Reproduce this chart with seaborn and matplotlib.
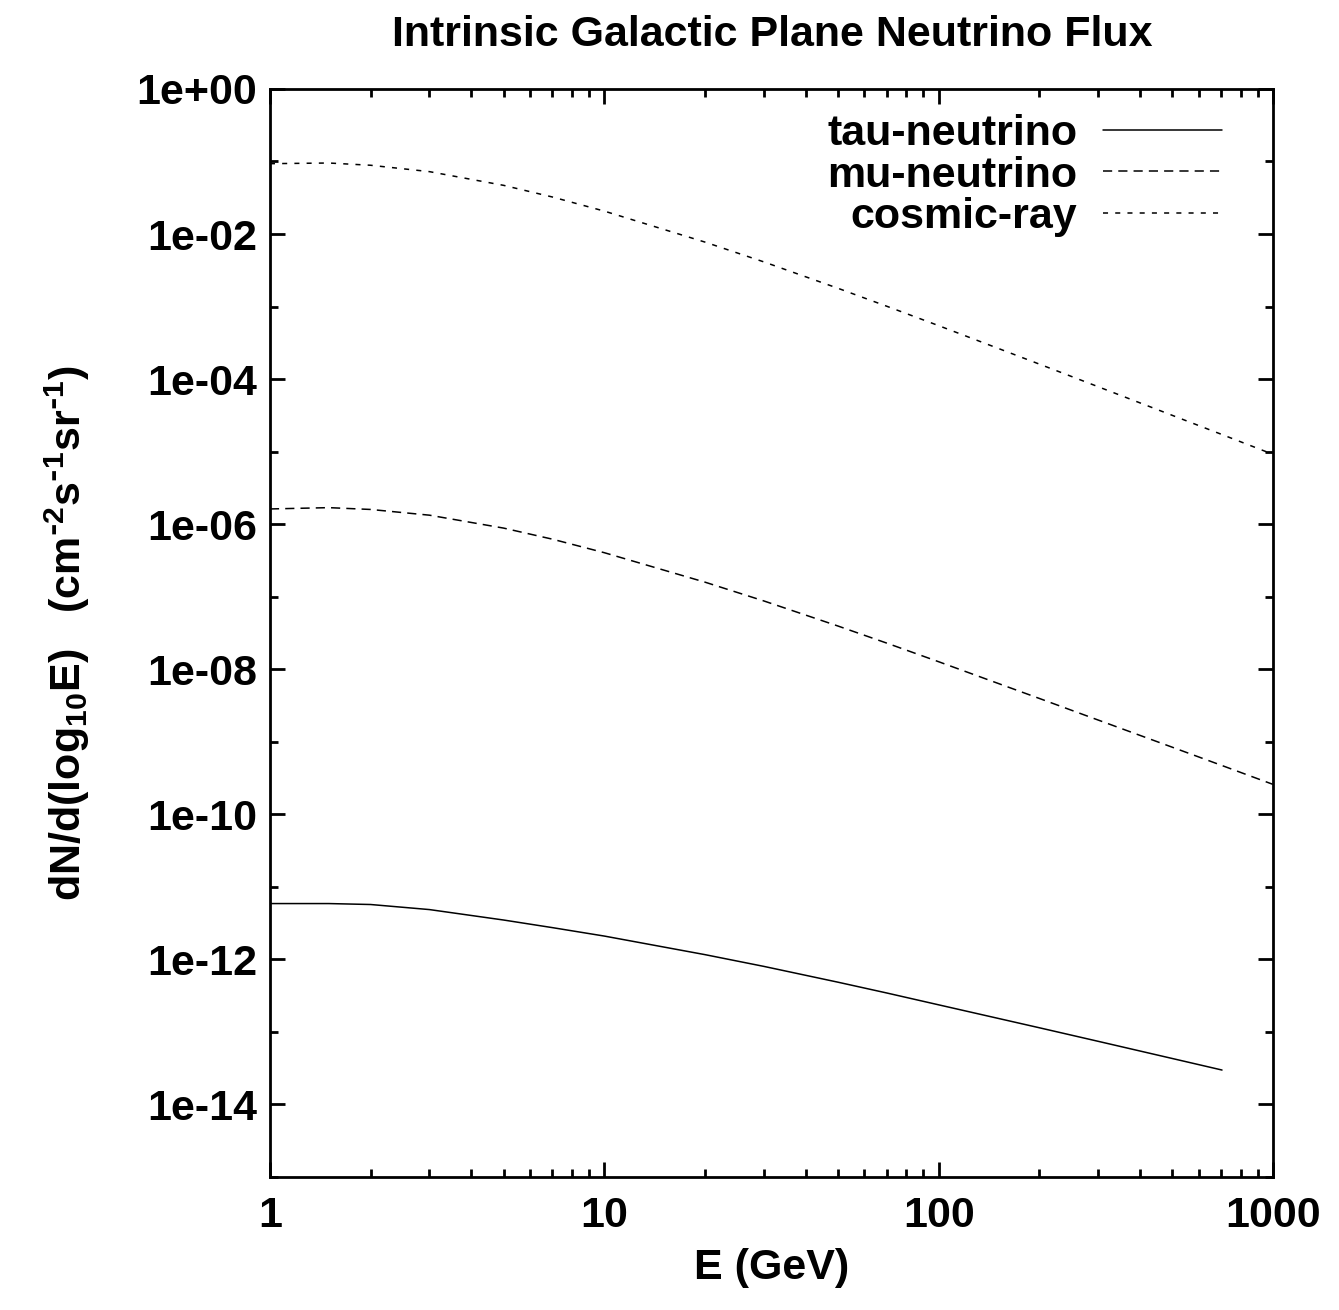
import numpy as np
import pandas as pd
import matplotlib
matplotlib.use("Agg")
import matplotlib.pyplot as plt
import matplotlib.ticker as mticker
import seaborn as sns

energy = [1, 1.5, 2, 3, 5, 7, 10, 20, 30, 50, 70, 100, 200, 300, 500, 700, 1000]

# log10 of dN/d(log10 E)
log_cosmic = [-1.03, -1.021, -1.052, -1.140, -1.329, -1.490, -1.684, -2.111, -2.384,
              -2.748, -2.996, -3.263, -3.793, -4.105, -4.500, -4.760, -5.037]
log_mu = [-5.79, -5.772, -5.797, -5.876, -6.054, -6.207, -6.393, -6.799, -7.058,
          -7.404, -7.640, -7.896, -8.402, -8.700, -9.075, -9.323, -9.587]
energy_tau = [1, 1.5, 2, 3, 5, 7, 10, 20, 30, 50, 70, 100, 200, 300, 500, 704]
log_tau = [-11.23, -11.23, -11.243, -11.313, -11.457, -11.562, -11.678, -11.934,
           -12.096, -12.314, -12.463, -12.626, -12.942, -13.129, -13.366, -13.525]

df = pd.DataFrame({"E": energy, "cosmic": np.power(10.0, log_cosmic),
                   "mu": np.power(10.0, log_mu)})
df_tau = pd.DataFrame({"E": energy_tau, "tau": np.power(10.0, log_tau)})

sns.set_style("ticks")
plt.rcParams["font.family"] = ["Liberation Sans", "DejaVu Sans"]
plt.rcParams["font.weight"] = "bold"
plt.rcParams["mathtext.default"] = "regular"
for key in ["text.color", "axes.labelcolor", "xtick.color", "ytick.color",
            "axes.edgecolor"]:
    plt.rcParams[key] = "black"

fs = 31
fig = plt.figure(figsize=(13.39, 13.10), dpi=100)
ax = fig.add_axes([0.2016, 0.1015, 0.9507 - 0.2016, 0.9321 - 0.1015])

lw = 1.1
sns.lineplot(data=df_tau, x="E", y="tau", ax=ax, color="black", lw=lw,
             label="tau-neutrino")
sns.lineplot(data=df, x="E", y="mu", ax=ax, color="black", lw=lw,
             linestyle=(0, (6, 4)), label="mu-neutrino")
sns.lineplot(data=df, x="E", y="cosmic", ax=ax, color="black", lw=lw,
             linestyle=(0, (3.3, 4.7)), label="cosmic-ray")

ax.set_xscale("log")
ax.set_yscale("log")
ax.set_xlim(1, 1000)
ax.set_ylim(1e-15, 1)

ax.xaxis.set_major_locator(mticker.FixedLocator([1, 10, 100, 1000]))
ax.xaxis.set_major_formatter(mticker.FixedFormatter(["1", "10", "100", "1000"]))
ax.xaxis.set_minor_locator(mticker.LogLocator(base=10, subs=np.arange(2, 10)))
ax.xaxis.set_minor_formatter(mticker.NullFormatter())

y_major = [10.0 ** k for k in range(0, -15, -2)]
y_labels = ["1e+00", "1e-02", "1e-04", "1e-06", "1e-08", "1e-10", "1e-12", "1e-14"]
ax.yaxis.set_major_locator(mticker.FixedLocator(y_major))
ax.yaxis.set_major_formatter(mticker.FixedFormatter(y_labels))
ax.yaxis.set_minor_locator(mticker.FixedLocator([10.0 ** k for k in range(-1, -16, -2)]))
ax.yaxis.set_minor_formatter(mticker.NullFormatter())

for s in ax.spines.values():
    s.set_visible(True)
    s.set_linewidth(2.0)
    s.set_color("black")

ax.tick_params(which="both", direction="in", top=True, right=True, width=2.0,
               colors="black")
ax.tick_params(which="major", length=11, labelsize=fs)
ax.tick_params(which="minor", length=5.5)
ax.tick_params(axis="x", which="major", pad=14)
ax.tick_params(axis="y", which="major", pad=9)
for lab in ax.get_xticklabels() + ax.get_yticklabels():
    lab.set_fontweight("bold")

ax.set_xlabel("E (GeV)", fontsize=fs, fontweight="bold", labelpad=8)
ax.set_ylabel(r"dN/d(log$_{10}$E)   (cm$^{\text{-}2}$s$^{\text{-}1}$sr$^{\text{-}1}$)",
              fontsize=fs, fontweight="bold", labelpad=32)
fig.suptitle("Intrinsic Galactic Plane Neutrino Flux", fontsize=fs,
             fontweight="bold", x=0.5766, y=0.9885)

leg = ax.legend(loc="upper right", bbox_to_anchor=(0.966, 0.993), frameon=False,
                markerfirst=False, fontsize=fs, handlelength=2.75,
                handletextpad=0.6, labelspacing=0.04, borderaxespad=0.0)
for t in leg.get_texts():
    t.set_fontweight("bold")

fig.savefig("out.png", dpi=100)
